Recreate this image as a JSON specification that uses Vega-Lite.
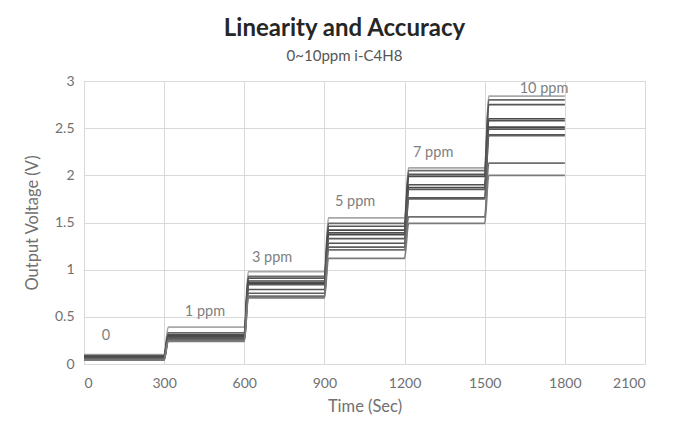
{
  "$schema": "https://vega.github.io/schema/vega-lite/v6.json",
  "width": 561,
  "height": 283,
  "autosize": {"type": "none"},
  "padding": {"left": 84, "top": 81, "right": 46, "bottom": 67},
  "background": "white",
  "title": {
    "text": "Linearity and Accuracy",
    "subtitle": "0~10ppm i-C4H8",
    "font": "Lato",
    "fontSize": 24,
    "fontWeight": "bold",
    "color": "#262626",
    "subtitleFont": "Lato",
    "subtitleFontSize": 15,
    "subtitleColor": "#555555",
    "subtitlePadding": 8,
    "anchor": "middle",
    "dx": -20,
    "offset": 10
  },
  "datasets": {
    "lines": [
      {"s":"L1","t":0,"v":0.10},{"s":"L1","t":300,"v":0.10},{"s":"L1","t":315,"v":0.39},{"s":"L1","t":600,"v":0.39},{"s":"L1","t":615,"v":0.98},{"s":"L1","t":900,"v":0.98},{"s":"L1","t":915,"v":1.55},{"s":"L1","t":1200,"v":1.55},{"s":"L1","t":1215,"v":2.08},{"s":"L1","t":1500,"v":2.08},{"s":"L1","t":1515,"v":2.84},{"s":"L1","t":1800,"v":2.84},
      {"s":"L2","t":0,"v":0.09},{"s":"L2","t":300,"v":0.09},{"s":"L2","t":315,"v":0.33},{"s":"L2","t":600,"v":0.33},{"s":"L2","t":615,"v":0.93},{"s":"L2","t":900,"v":0.93},{"s":"L2","t":915,"v":1.49},{"s":"L2","t":1200,"v":1.49},{"s":"L2","t":1215,"v":2.05},{"s":"L2","t":1500,"v":2.05},{"s":"L2","t":1515,"v":2.80},{"s":"L2","t":1800,"v":2.80},
      {"s":"L3","t":0,"v":0.08},{"s":"L3","t":300,"v":0.08},{"s":"L3","t":315,"v":0.31},{"s":"L3","t":600,"v":0.31},{"s":"L3","t":615,"v":0.91},{"s":"L3","t":900,"v":0.91},{"s":"L3","t":915,"v":1.46},{"s":"L3","t":1200,"v":1.46},{"s":"L3","t":1215,"v":2.01},{"s":"L3","t":1500,"v":2.01},{"s":"L3","t":1515,"v":2.75},{"s":"L3","t":1800,"v":2.75},
      {"s":"L4","t":0,"v":0.08},{"s":"L4","t":300,"v":0.08},{"s":"L4","t":315,"v":0.30},{"s":"L4","t":600,"v":0.30},{"s":"L4","t":615,"v":0.88},{"s":"L4","t":900,"v":0.88},{"s":"L4","t":915,"v":1.42},{"s":"L4","t":1200,"v":1.42},{"s":"L4","t":1215,"v":1.99},{"s":"L4","t":1500,"v":1.99},{"s":"L4","t":1515,"v":2.60},{"s":"L4","t":1800,"v":2.60},
      {"s":"L5","t":0,"v":0.07},{"s":"L5","t":300,"v":0.07},{"s":"L5","t":315,"v":0.29},{"s":"L5","t":600,"v":0.29},{"s":"L5","t":615,"v":0.86},{"s":"L5","t":900,"v":0.86},{"s":"L5","t":915,"v":1.39},{"s":"L5","t":1200,"v":1.39},{"s":"L5","t":1215,"v":1.90},{"s":"L5","t":1500,"v":1.90},{"s":"L5","t":1515,"v":2.58},{"s":"L5","t":1800,"v":2.58},
      {"s":"L6","t":0,"v":0.07},{"s":"L6","t":300,"v":0.07},{"s":"L6","t":315,"v":0.29},{"s":"L6","t":600,"v":0.29},{"s":"L6","t":615,"v":0.85},{"s":"L6","t":900,"v":0.85},{"s":"L6","t":915,"v":1.37},{"s":"L6","t":1200,"v":1.37},{"s":"L6","t":1215,"v":1.87},{"s":"L6","t":1500,"v":1.87},{"s":"L6","t":1515,"v":2.51},{"s":"L6","t":1800,"v":2.51},
      {"s":"L7","t":0,"v":0.06},{"s":"L7","t":300,"v":0.06},{"s":"L7","t":315,"v":0.28},{"s":"L7","t":600,"v":0.28},{"s":"L7","t":615,"v":0.84},{"s":"L7","t":900,"v":0.84},{"s":"L7","t":915,"v":1.33},{"s":"L7","t":1200,"v":1.33},{"s":"L7","t":1215,"v":1.85},{"s":"L7","t":1500,"v":1.85},{"s":"L7","t":1515,"v":2.49},{"s":"L7","t":1800,"v":2.49},
      {"s":"L8","t":0,"v":0.06},{"s":"L8","t":300,"v":0.06},{"s":"L8","t":315,"v":0.27},{"s":"L8","t":600,"v":0.27},{"s":"L8","t":615,"v":0.79},{"s":"L8","t":900,"v":0.79},{"s":"L8","t":915,"v":1.28},{"s":"L8","t":1200,"v":1.28},{"s":"L8","t":1215,"v":1.76},{"s":"L8","t":1500,"v":1.76},{"s":"L8","t":1515,"v":2.43},{"s":"L8","t":1800,"v":2.43},
      {"s":"L9","t":0,"v":0.05},{"s":"L9","t":300,"v":0.05},{"s":"L9","t":315,"v":0.26},{"s":"L9","t":600,"v":0.26},{"s":"L9","t":615,"v":0.75},{"s":"L9","t":900,"v":0.75},{"s":"L9","t":915,"v":1.24},{"s":"L9","t":1200,"v":1.24},{"s":"L9","t":1215,"v":1.75},{"s":"L9","t":1500,"v":1.75},{"s":"L9","t":1515,"v":2.42},{"s":"L9","t":1800,"v":2.42},
      {"s":"L10","t":0,"v":0.05},{"s":"L10","t":300,"v":0.05},{"s":"L10","t":315,"v":0.25},{"s":"L10","t":600,"v":0.25},{"s":"L10","t":615,"v":0.72},{"s":"L10","t":900,"v":0.72},{"s":"L10","t":915,"v":1.21},{"s":"L10","t":1200,"v":1.21},{"s":"L10","t":1215,"v":1.56},{"s":"L10","t":1500,"v":1.56},{"s":"L10","t":1515,"v":2.13},{"s":"L10","t":1800,"v":2.13},
      {"s":"L11","t":0,"v":0.04},{"s":"L11","t":300,"v":0.04},{"s":"L11","t":315,"v":0.24},{"s":"L11","t":600,"v":0.24},{"s":"L11","t":615,"v":0.70},{"s":"L11","t":900,"v":0.70},{"s":"L11","t":915,"v":1.12},{"s":"L11","t":1200,"v":1.12},{"s":"L11","t":1215,"v":1.49},{"s":"L11","t":1500,"v":1.49},{"s":"L11","t":1515,"v":2.00},{"s":"L11","t":1800,"v":2.00}
    ],
    "labels": [
      {"label":"0","t":82,"v":0.30},
      {"label":"1 ppm","t":453,"v":0.55},
      {"label":"3 ppm","t":704,"v":1.12},
      {"label":"5 ppm","t":1015,"v":1.72},
      {"label":"7 ppm","t":1307,"v":2.24},
      {"label":"10 ppm","t":1722,"v":2.92}
    ]
  },
  "layer": [
    {
      "data": {"name": "lines"},
      "mark": {"type": "line", "interpolate": "monotone", "strokeWidth": 1.7},
      "encoding": {
        "x": {
          "field": "t", "type": "quantitative",
          "scale": {"domain": [0, 2100], "nice": false},
          "axis": {"values": [0,300,600,900,1200,1500,1800,2100], "format": "d", "title": "Time (Sec)", "labelPadding": 12, "titlePadding": 8}
        },
        "y": {
          "field": "v", "type": "quantitative",
          "scale": {"domain": [0, 3], "nice": false},
          "axis": {"values": [0,0.5,1,1.5,2,2.5,3], "format": "~g", "title": "Output Voltage (V)", "labelPadding": 10, "titlePadding": 14, "domain": false}
        },
        "color": {
          "field": "s", "type": "nominal",
          "scale": {
            "domain": ["L1","L2","L3","L4","L5","L6","L7","L8","L9","L10","L11"],
            "range": ["#a8a8a8","#6a6a6a","#555555","#4a4a4a","#505050","#484848","#5a5a5a","#555555","#606060","#6f6f6f","#7a7a7a"]
          },
          "legend": null
        }
      }
    },
    {
      "data": {"name": "labels"},
      "mark": {"type": "text", "font": "Lato", "fontSize": 14.5, "color": "#7f7f7f"},
      "encoding": {
        "x": {"field": "t", "type": "quantitative"},
        "y": {"field": "v", "type": "quantitative"},
        "text": {"field": "label"}
      }
    }
  ],
  "config": {
    "view": {"stroke": "#d9d9d9"},
    "axis": {
      "gridColor": "#d9d9d9",
      "domainColor": "#d9d9d9",
      "ticks": false,
      "labelColor": "#707070",
      "titleColor": "#707070",
      "labelFont": "Lato",
      "titleFont": "Lato",
      "labelFontSize": 14,
      "titleFontSize": 16.5,
      "titleFontWeight": "normal"
    }
  }
}
